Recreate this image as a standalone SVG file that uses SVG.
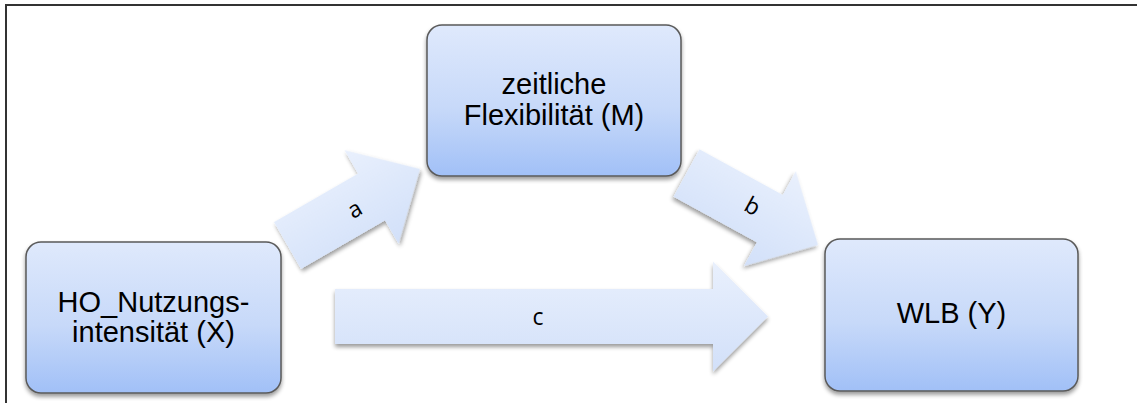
<svg xmlns="http://www.w3.org/2000/svg" width="1137" height="403" viewBox="0 0 1137 403">
<defs>
<linearGradient id="ng" x1="0" y1="0" x2="0" y2="1">
<stop offset="0" stop-color="#dfe9fc"/>
<stop offset="0.55" stop-color="#c7d9f9"/>
<stop offset="1" stop-color="#a1c0f7"/>
</linearGradient>
<linearGradient id="ag" x1="0" y1="0" x2="0" y2="1">
<stop offset="0" stop-color="#e9f0fd"/>
<stop offset="1" stop-color="#d2e0f9"/>
</linearGradient>
<filter id="sh" x="-10%" y="-10%" width="120%" height="130%">
<feGaussianBlur in="SourceAlpha" stdDeviation="2"/>
<feOffset dx="0" dy="3" result="b"/>
<feComponentTransfer><feFuncA type="linear" slope="0.4"/></feComponentTransfer>
<feMerge><feMergeNode/><feMergeNode in="SourceGraphic"/></feMerge>
</filter>
</defs>
<style>
.node{fill:url(#ng);stroke:#5a5a5a;stroke-width:1.5;filter:url(#sh)}
.nt{font-family:"Liberation Sans",Arial,sans-serif;font-size:29px;fill:#000;text-anchor:middle}
.arr{fill:url(#ag);filter:url(#sh)}
.lbl{font-family:"Open Sans","Noto Sans",sans-serif;font-size:23px;fill:#000;text-anchor:middle}
</style>
<rect x="6" y="5" width="1140" height="410" fill="#fff" stroke="#333" stroke-width="2"/>
<g id="connectors">
<g id="arrow-a" transform="translate(287.5,245.5) rotate(-30)">
<path class="arr" d="M0,-27 L97,-27 L97,-54 L153,0 L97,54 L97,27 L0,27 Z"/>
</g>
<g id="arrow-b" transform="translate(686.5,173) rotate(28.7)">
<path class="arr" d="M0,-27 L95,-27 L95,-54 L150,0 L95,54 L95,27 L0,27 Z"/>
</g>
<g id="arrow-c" transform="translate(335,316.5)">
<path class="arr" d="M0,-27.5 L378,-27.5 L378,-55 L433,0 L378,55 L378,27.5 L0,27.5 Z"/>
</g>
<text class="lbl" transform="translate(355,210) rotate(-30)" y="7">a</text>
<text class="lbl" transform="translate(752,207) rotate(29)" y="7">b</text>
<text class="lbl" x="538" y="325">c</text>
</g>
<g id="node-x">
<rect class="node" x="26" y="242" width="255" height="151" rx="15"/>
<text class="nt" x="153.5" y="312">HO_Nutzungs-</text>
<text class="nt" x="153.5" y="342">intensität (X)</text>
</g>
<g id="node-m">
<rect class="node" x="427" y="25" width="254" height="151" rx="15"/>
<text class="nt" x="554" y="94">zeitliche</text>
<text class="nt" x="554" y="125">Flexibilität (M)</text>
</g>
<g id="node-y">
<rect class="node" x="825" y="239" width="253" height="152" rx="15"/>
<text class="nt" x="951.5" y="323">WLB (Y)</text>
</g>
</svg>
